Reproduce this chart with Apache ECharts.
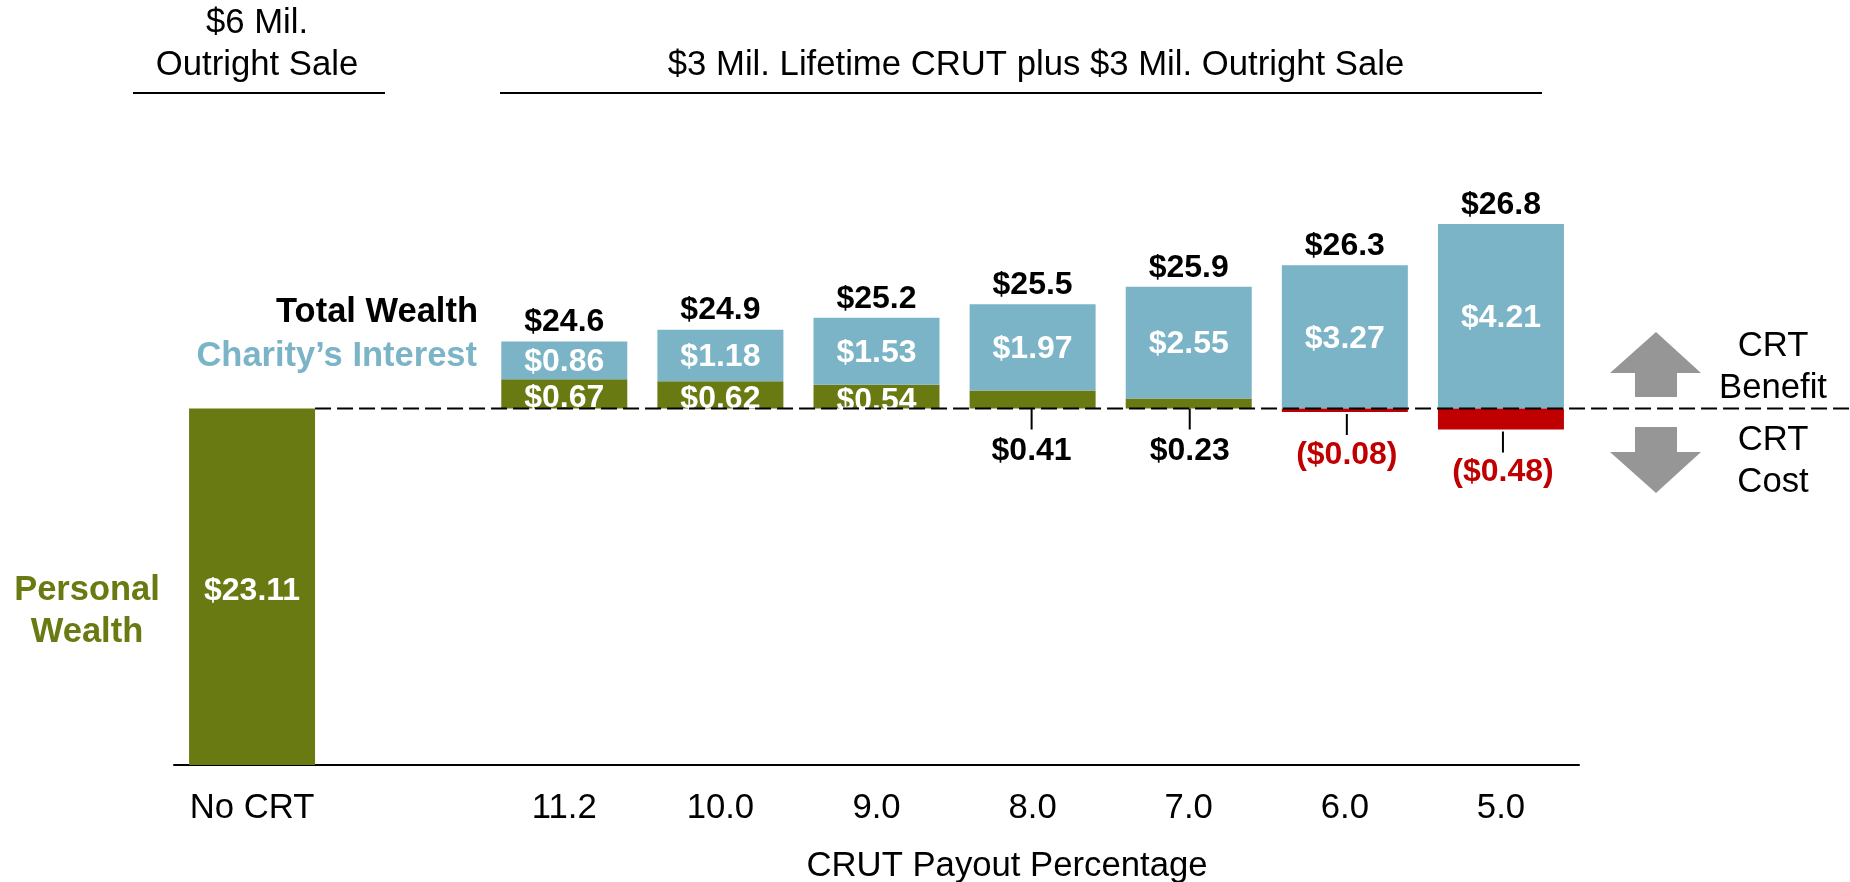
<!DOCTYPE html>
<html><head><meta charset="utf-8">
<style>html,body{margin:0;padding:0;background:#fff}#c{width:1850px;height:882px}</style>
<script src="https://cdn.jsdelivr.net/npm/echarts@6/dist/echarts.min.js"></script>
</head><body><div id="c"></div>
<script>
const categories = ['No CRT','', '11.2','10.0','9.0','8.0','7.0','6.0','5.0'];
const personalWealth = 23.11;
const personalDelta = [null,null,0.67,0.62,0.54,0.41,0.23,-0.08,-0.48];
const charityInterest = [null,null,0.86,1.18,1.53,1.97,2.55,3.27,4.21];
const totalLabels = [null,null,'$24.6','$24.9','$25.2','$25.5','$25.9','$26.3','$26.8'];
const deltaLabels = [null,null,'$0.67','$0.62','$0.54','$0.41','$0.23','($0.08)','($0.48)'];

const FONT = '"Liberation Sans", Arial, sans-serif';
const GREEN = '#6A7A12', BLUE = '#7AB4C6', RED = '#C00000', GREY = '#969696';
const SZ = 34.7, BSZ = 32, TSZ = 34.5;
const yMin = 14.971, yMax = 29.012;
const leaderNudge = [-2, 0, 1, 1];

const base = personalDelta.map((d,i)=> i===1 ? null : personalWealth);
const gain = personalDelta.map(d=> d!==null && d>0 ? d : null);
const lossBase = personalDelta.map(d=> d!==null && d<0 ? personalWealth+d : null);
const loss = personalDelta.map(d=> d!==null && d<0 ? -d : null);
const tops = charityInterest.map((c,i)=> c===null ? null : personalWealth+Math.max(personalDelta[i],0)+c);
const outside = personalDelta.map((d,i)=> d!==null && d<0.5 ? [i, personalWealth+Math.min(d,0), deltaLabels[i], d] : null).filter(Boolean);

const inLabel = {show:true,color:'#fff',fontFamily:FONT,fontWeight:'bold',fontSize:BSZ,position:'inside'};
const barCommon = {type:'bar',barWidth:126,barGap:'-100%',animation:false,silent:true};

function txt(t,x,y,o){return {type:'text',z:20,style:Object.assign({text:t,x:x,y:y,fill:'#000',font:SZ+'px '+FONT,align:'center',verticalAlign:'middle'},o||{})};}
function rule(x1,x2,y){return {type:'line',z:20,shape:{x1:x1,y1:y,x2:x2,y2:y},style:{stroke:'#000',lineWidth:2}};}
function poly(p){return {type:'polygon',z:20,shape:{points:p},style:{fill:GREY}};}
const bold = 'bold '+TSZ+'px '+FONT;

const chart = echarts.init(document.getElementById('c'),null,{renderer:'canvas'});
chart.setOption({
  animation:false,
  backgroundColor:'#fff',
  grid:{left:174,right:271,top:150,bottom:117},
  xAxis:{type:'category',data:categories,
    axisLine:{lineStyle:{color:'#000',width:2}},axisTick:{show:false},
    axisLabel:{color:'#000',fontFamily:FONT,fontSize:SZ,margin:26,interval:0}},
  yAxis:{type:'value',min:yMin,max:yMax,show:false,splitLine:{show:false}},
  series:[
    Object.assign({},barCommon,{name:'Base',stack:'main',itemStyle:{color:'transparent'},
      data:base.map((v,i)=> i===0 ? {value:v,itemStyle:{color:GREEN},
        label:Object.assign({},inLabel,{formatter:'$'+personalWealth.toFixed(2),offset:[0,4]})} : v)}),
    Object.assign({},barCommon,{name:'Personal Wealth',stack:'main',itemStyle:{color:GREEN},
      label:Object.assign({},inLabel,{offset:[0,4],
        formatter:p=> p.value>=0.5 ? deltaLabels[p.dataIndex] : ''}),data:gain}),
    Object.assign({},barCommon,{name:"Charity's Interest",stack:'main',itemStyle:{color:BLUE},
      label:Object.assign({},inLabel,{offset:[0,2],formatter:p=>'$'+p.value.toFixed(2)}),data:charityInterest}),
    Object.assign({},barCommon,{name:'Loss base',stack:'loss',itemStyle:{color:'transparent'},data:lossBase}),
    Object.assign({},barCommon,{name:'CRT Cost',stack:'loss',itemStyle:{color:RED},data:loss}),
    {type:'scatter',name:'Total Wealth',symbolSize:0,silent:true,animation:false,z:5,
      itemStyle:{opacity:1},
      label:{show:true,position:'top',distance:3,color:'#000',fontFamily:FONT,fontWeight:'bold',fontSize:BSZ,
        formatter:p=>totalLabels[p.dataIndex]},
      data:tops.map((v,i)=>[i,v])},
    {type:'custom',name:'Leaders',silent:true,animation:false,z:6,data:outside,
      encode:{x:0,y:1},
      renderItem:function(params,api){
        const d = outside[params.dataIndex];
        const pt = api.coord([d[0],d[1]]);
        const neg = d[3]<0;
        const y0 = pt[1]+(neg?2:0);
        const x = pt[0]+1+leaderNudge[params.dataIndex];
        return {type:'group',children:[
          {type:'line',shape:{x1:x,y1:y0,x2:x,y2:y0+21},style:{stroke:'#000',lineWidth:2}},
          {type:'text',style:{text:d[2],x:x,y:y0+(neg?41:43),fill:neg?RED:'#000',font:'bold '+BSZ+'px '+FONT,align:'center',verticalAlign:'middle'}}
        ]};
      }},
    {type:'custom',name:'Baseline',silent:true,animation:false,z:10,data:[[0,personalWealth]],
      encode:{x:0,y:1},
      renderItem:function(params,api){
        const pt = api.coord([0,personalWealth]);
        return {type:'line',shape:{x1:pt[0]+63,y1:pt[1],x2:api.getWidth(),y2:pt[1]},
          style:{stroke:'#000',lineWidth:2,lineDash:[16,6]}};
      }}
  ],
  graphic:[
    txt('$6 Mil.',257,23),
    txt('Outright Sale',257,65),
    rule(133,385,93),
    txt('$3 Mil. Lifetime CRUT plus $3 Mil. Outright Sale',1036,65),
    rule(500,1542,93),
    txt('Total Wealth',478,312,{align:'right',font:bold}),
    txt('Charity\u2019s Interest',477,356,{align:'right',fill:BLUE,font:bold}),
    txt('Personal',87,590,{fill:GREEN,font:bold}),
    txt('Wealth',87,632,{fill:GREEN,font:bold}),
    txt('CRUT Payout Percentage',1007,866),
    txt('CRT',1773,346),txt('Benefit',1773,388),
    txt('CRT',1773,440),txt('Cost',1773,482),
    poly([[1656,332],[1701,373],[1677,373],[1677,397],[1635,397],[1635,373],[1610,373]]),
    poly([[1635,427],[1677,427],[1677,452],[1701,452],[1656,493],[1610,452],[1635,452]])
  ]
});
</script></body></html>
